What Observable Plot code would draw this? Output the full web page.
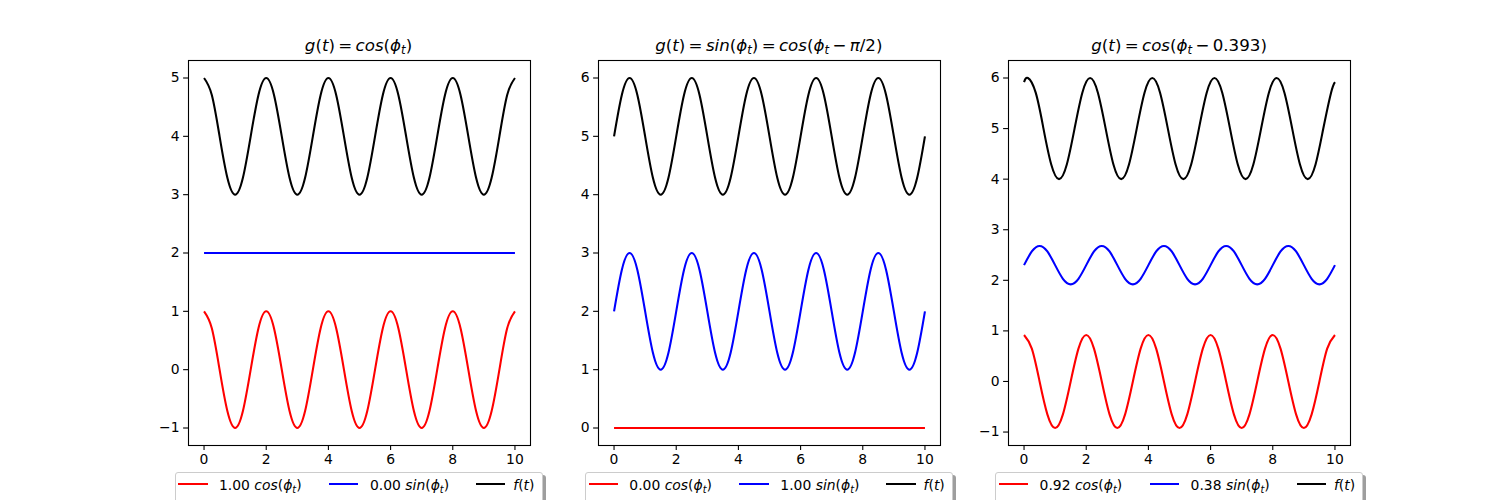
<!DOCTYPE html>
<html><head><meta charset="utf-8">
<script src="https://cdn.jsdelivr.net/npm/d3@7"></script>
<script src="https://cdn.jsdelivr.net/npm/@observablehq/plot@0.6"></script>
<style>
body{margin:0;background:#fff;}
#fig{position:relative;width:1500px;height:500px;overflow:hidden;background:#fff;font-family:"DejaVu Sans",sans-serif;color:#000;}
.panel{position:absolute;top:0;}
.title{position:absolute;width:342px;text-align:center;font-size:16.67px;line-height:20px;top:36px;white-space:nowrap;}
i{font-style:oblique;}
sub{font-size:70%;vertical-align:baseline;position:relative;top:0.25em;line-height:0;}
.legend{position:absolute;top:471.7px;width:368px;height:34px;background:#fff;border:1px solid #cccccc;border-radius:3px;box-shadow:3px 3px 0 rgba(0,0,0,0.38);box-sizing:border-box;}
.lline{position:absolute;top:10.6px;width:29.4px;height:2.1px;}
.ltext{position:absolute;top:5.5px;font-size:13.9px;line-height:14px;white-space:nowrap;}
</style>
</head><body>
<div id="fig"></div>
<script>
// ---- data ----
const tGrid = [0,0.25,0.5,0.75,1,1.25,1.5,1.75,2,2.25,2.5,2.75,3,3.25,3.5,3.75,4,4.25,4.5,4.75,5,5.25,5.5,5.75,6,6.25,6.5,6.75,7,7.25,7.5,7.75,8,8.25,8.5,8.75,9,9.25,9.5,9.75,10];
const tShift = [0,0.125,0.375,0.625,0.875,1.125,1.375,1.625,1.875,2.125,2.375,2.625,2.875,3.125,3.375,3.625,3.875,4.125,4.375,4.625,4.875,5.125,5.375,5.625,5.875,6.125,6.375,6.625,6.875,7.125,7.375,7.625,7.875,8.125,8.375,8.625,8.875,9.125,9.375,9.625,9.875,10];
const tEnds = [0, 10];

// panel 1: g(t) = cos(phi_t)
const p1Red   = [1,0.71,0,-0.71,-1,-0.71,0,0.71, 1,0.71,0,-0.71,-1,-0.71,0,0.71, 1,0.71,0,-0.71,-1,-0.71,0,0.71, 1,0.71,0,-0.71,-1,-0.71,0,0.71, 1,0.71,0,-0.71,-1,-0.71,0,0.71, 1];
const p1Blue  = [2, 2];
const p1Black = [5,4.71,4,3.29,3,3.29,4,4.71, 5,4.71,4,3.29,3,3.29,4,4.71, 5,4.71,4,3.29,3,3.29,4,4.71, 5,4.71,4,3.29,3,3.29,4,4.71, 5,4.71,4,3.29,3,3.29,4,4.71, 5];

// panel 2: g(t) = sin(phi_t)
const p2Red   = [0, 0];
const p2Blue  = [2,2.71,3,2.71,2,1.29,1,1.29, 2,2.71,3,2.71,2,1.29,1,1.29, 2,2.71,3,2.71,2,1.29,1,1.29, 2,2.71,3,2.71,2,1.29,1,1.29, 2,2.71,3,2.71,2,1.29,1,1.29, 2];
const p2Black = [5,5.71,6,5.71,5,4.29,4,4.29, 5,5.71,6,5.71,5,4.29,4,4.29, 5,5.71,6,5.71,5,4.29,4,4.29, 5,5.71,6,5.71,5,4.29,4,4.29, 5,5.71,6,5.71,5,4.29,4,4.29, 5];

// panel 3: g(t) = cos(phi_t - 0.393)
const p3Red   = [0.92,0.65,0,-0.65,-0.92,-0.65,0,0.65, 0.92,0.65,0,-0.65,-0.92,-0.65,0,0.65, 0.92,0.65,0,-0.65,-0.92,-0.65,0,0.65, 0.92,0.65,0,-0.65,-0.92,-0.65,0,0.65, 0.92,0.65,0,-0.65,-0.92,-0.65,0,0.65, 0.92];
const p3Blue  = [2.3,2.57,2.68,2.57,2.3,2.03,1.92,2.03, 2.3,2.57,2.68,2.57,2.3,2.03,1.92,2.03, 2.3,2.57,2.68,2.57,2.3,2.03,1.92,2.03, 2.3,2.57,2.68,2.57,2.3,2.03,1.92,2.03, 2.3,2.57,2.68,2.57,2.3,2.03,1.92,2.03, 2.3];
const p3Black = [5.92, 6,5.71,5,4.29,4,4.29,5,5.71, 6,5.71,5,4.29,4,4.29,5,5.71, 6,5.71,5,4.29,4,4.29,5,5.71, 6,5.71,5,4.29,4,4.29,5,5.71, 6,5.71,5,4.29,4,4.29,5,5.71, 5.92];

const xTicks = [0, 2, 4, 6, 8, 10];
const p1YTicks = [-1, 0, 1, 2, 3, 4, 5];
const p2YTicks = [0, 1, 2, 3, 4, 5, 6];
const p3YTicks = [-1, 0, 1, 2, 3, 4, 5, 6];

const p1Labels = ["1.00 <i>cos</i>(<i>ϕ<sub>t</sub></i>)", "0.00 <i>sin</i>(<i>ϕ<sub>t</sub></i>)", "<i>f</i>(<i>t</i>)"];
const p2Labels = ["0.00 <i>cos</i>(<i>ϕ<sub>t</sub></i>)", "1.00 <i>sin</i>(<i>ϕ<sub>t</sub></i>)", "<i>f</i>(<i>t</i>)"];
const p3Labels = ["0.92 <i>cos</i>(<i>ϕ<sub>t</sub></i>)", "0.38 <i>sin</i>(<i>ϕ<sub>t</sub></i>)", "<i>f</i>(<i>t</i>)"];

const titles = [
  "<i>g</i>(<i>t</i>)&thinsp;=&thinsp;<i>cos</i>(<i>ϕ<sub>t</sub></i>)",
  "<i>g</i>(<i>t</i>)&thinsp;=&thinsp;<i>sin</i>(<i>ϕ<sub>t</sub></i>)&thinsp;=&thinsp;<i>cos</i>(<i>ϕ<sub>t</sub></i>&thinsp;−&thinsp;<i>π</i>/2)",
  "<i>g</i>(<i>t</i>)&thinsp;=&thinsp;<i>cos</i>(<i>ϕ<sub>t</sub></i>&thinsp;−&thinsp;0.393)"
];

const colors = ["#ff0000", "#0000ff", "#000000"];

const panels = [
  {left: 187.5, ydom: [-1.3, 5.3], yticks: p1YTicks, labels: p1Labels, title: titles[0],
   series: [[tGrid, p1Red], [tEnds, p1Blue], [tGrid, p1Black]]},
  {left: 597.8, ydom: [-0.3, 6.3], yticks: p2YTicks, labels: p2Labels, title: titles[1],
   series: [[tEnds, p2Red], [tGrid, p2Blue], [tGrid, p2Black]]},
  {left: 1008.1, ydom: [-1.266, 6.346], yticks: p3YTicks, labels: p3Labels, title: titles[2],
   series: [[tGrid, p3Red], [tGrid, p3Blue], [tShift, p3Black]]}
];

const fmt = d => d < 0 ? "\u2212" + Math.abs(d) : String(d);
const fig = document.getElementById("fig");
const mL = 60, mR = 20, mT = 60, mB = 25, W = 342;

panels.forEach(p => {
  const marks = [];
  p.series.forEach((s, i) => {
    marks.push(Plot.line(s[1], {x: s[0], y: s[1], stroke: colors[i], strokeWidth: 2.08, curve: "natural", strokeLinecap: "butt"}));
  });
  marks.push(Plot.axisX({ticks: xTicks, tickSize: 4.9, tickPadding: 4, strokeWidth: 1.1, fontSize: 13.9, tickFormat: fmt, label: null}));
  marks.push(Plot.axisY({ticks: p.yticks, tickSize: 4.9, tickPadding: 4, strokeWidth: 1.1, fontSize: 13.9, tickFormat: fmt, label: null}));
  marks.push(Plot.frame({stroke: "#000", strokeWidth: 1.1}));
  const chart = Plot.plot({
    width: W + mL + mR, height: 445 + mB,
    marginLeft: mL, marginRight: mR, marginTop: mT, marginBottom: mB,
    x: {domain: [-0.5, 10.5]},
    y: {domain: p.ydom},
    style: {fontFamily: "DejaVu Sans", fontSize: "13.9px", color: "#000", background: "transparent", overflow: "visible"},
    marks
  });
  chart.classList.add("panel");
  chart.style.left = (p.left - mL) + "px";
  fig.appendChild(chart);

  const t = document.createElement("div");
  t.className = "title";
  t.style.left = p.left + "px";
  t.innerHTML = p.title;
  fig.appendChild(t);

  const lg = document.createElement("div");
  lg.className = "legend";
  lg.style.left = (p.left - 13) + "px";
  const lineX = [2.8, 153.5, 300.5];
  const textX = [43.5, 194.5, 337.8];
  p.labels.forEach((lab, i) => {
    const ln = document.createElement("div");
    ln.className = "lline";
    ln.style.left = lineX[i] + "px";
    ln.style.background = colors[i];
    lg.appendChild(ln);
    const tx = document.createElement("div");
    tx.className = "ltext";
    tx.style.left = textX[i] + "px";
    tx.innerHTML = lab;
    lg.appendChild(tx);
  });
  fig.appendChild(lg);
});
</script>
</body></html>
